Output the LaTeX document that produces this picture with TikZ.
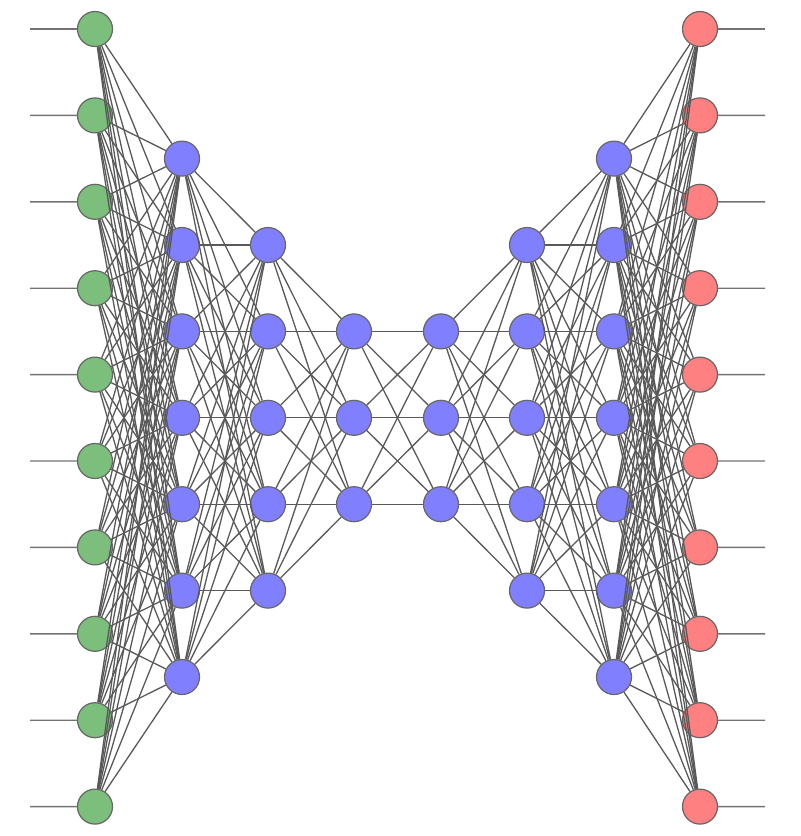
\documentclass[tikz,border=0pt]{standalone}
\usetikzlibrary{positioning}
\definecolor{my_green}{RGB}{124, 190, 124}
\definecolor{my_blue}{RGB}{128, 128, 255}
\definecolor{my_red}{RGB}{255, 128, 128}
\tikzset {
  neuron/.style = {draw=black!60, circle, minimum size=17.5pt, inner sep=0pt, line width=0.6pt},
  weight/.style = {draw=black!65, line width=0.65pt},
  io/.style = {draw=black!55, line width=0.7pt},
}
\begin{document}
\begin{tikzpicture}[x=0.5pt, y=-0.5pt]
    \useasboundingbox (0,0) rectangle (800,836);
    % layers: number / x / size / colour
    \foreach \l/\x/\n/\c in {1/95/10/my_green, 2/182/7/my_blue, 3/268/5/my_blue, 4/354/3/my_blue,
                             5/441/3/my_blue, 6/527/5/my_blue, 7/614/7/my_blue, 8/700/10/my_red}
      \foreach \i in {1,...,\n}
        \node[neuron, fill=\c] (n\l-\i) at (\x, {417.8 + (\i - (\n+1)/2)*86.4}) {};

    % weights between neighbouring layers
    \foreach \l/\m/\a/\b in {1/2/10/7, 2/3/7/5, 3/4/5/3, 4/5/3/3, 5/6/3/5, 6/7/5/7, 7/8/7/10}
      \foreach \i in {1,...,\a}
        \foreach \j in {1,...,\b}
          \draw[weight] (n\l-\i) -- (n\m-\j);

    % inputs and outputs
    \foreach \i in {1,...,10} {
      \coordinate (in\i) at (30, {29 + (\i-1)*86.4});
      \coordinate (out\i) at (765, {29 + (\i-1)*86.4});
      \draw[io] (in\i) -- (n1-\i);
      \draw[io] (n8-\i) -- (out\i);
    }
\end{tikzpicture}
\end{document}
